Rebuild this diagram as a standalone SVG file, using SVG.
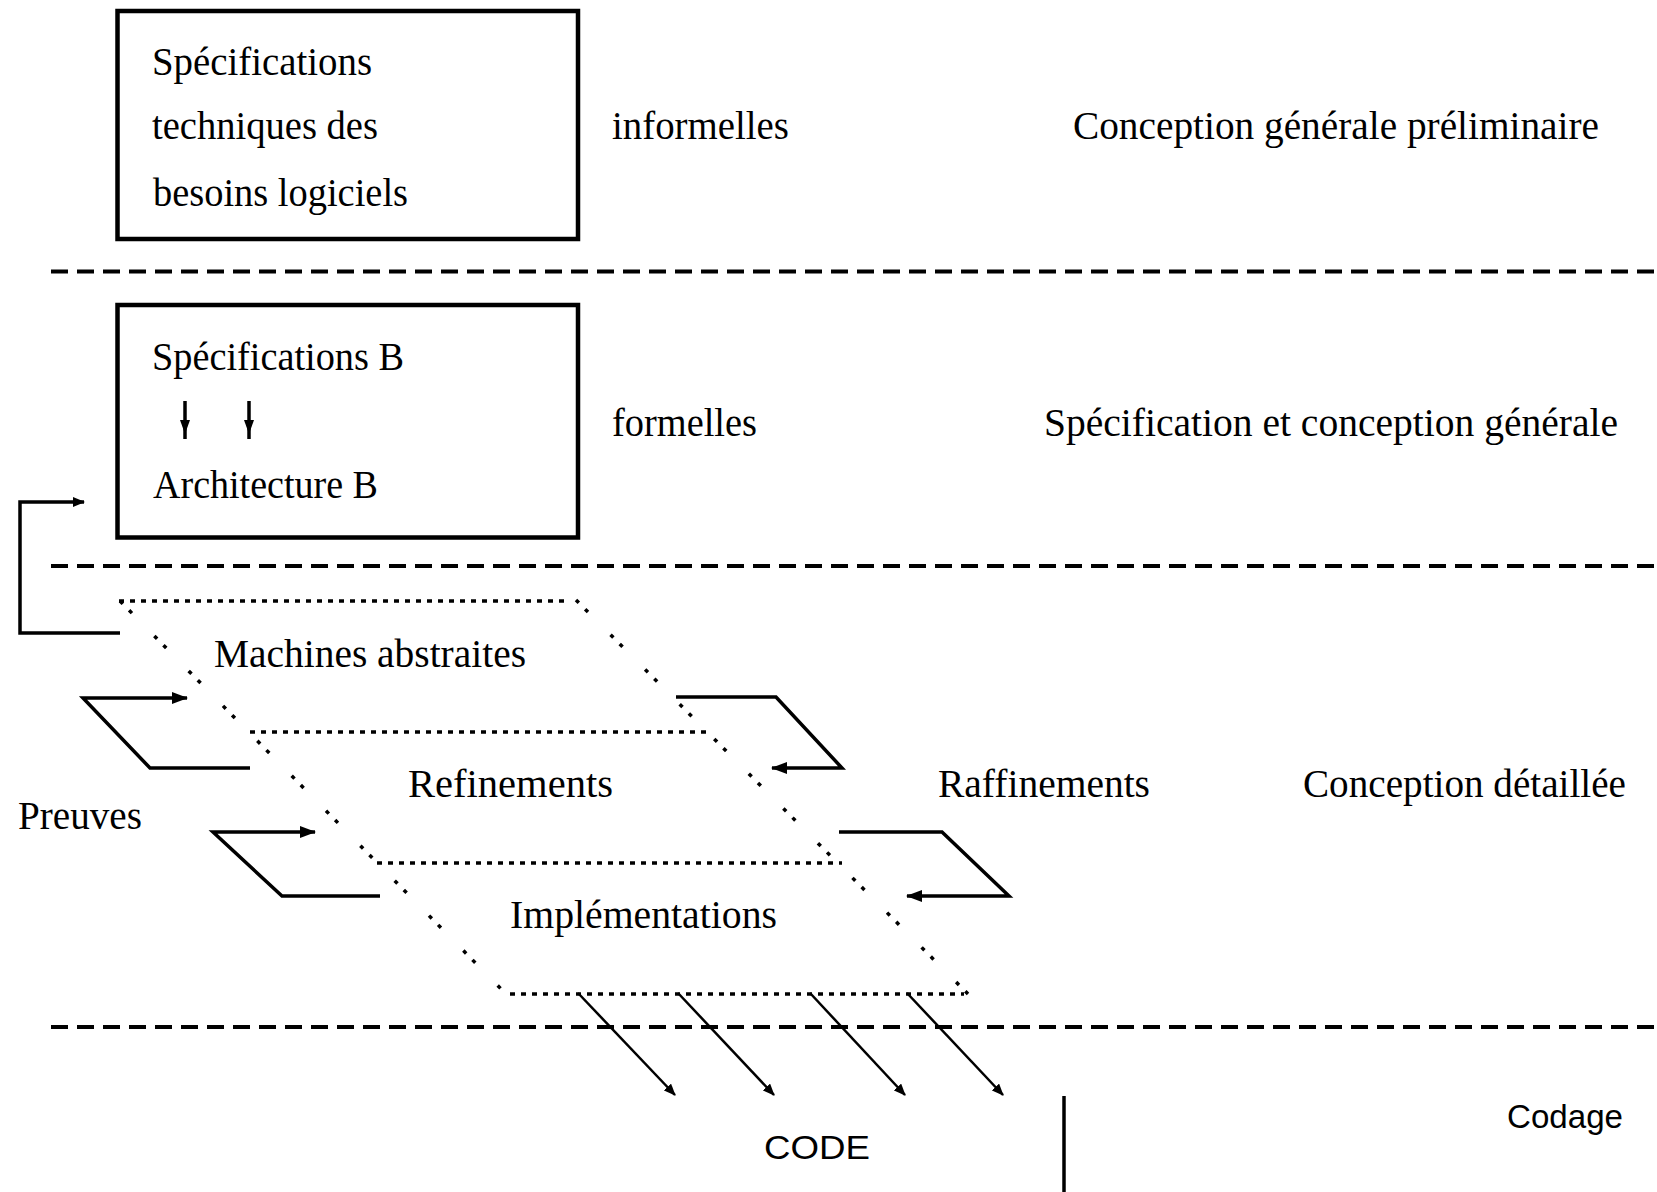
<svg xmlns="http://www.w3.org/2000/svg" width="1657" height="1192" viewBox="0 0 1657 1192">
<style>
  .bg { fill: #ffffff; }
  .box { fill: none; stroke: #000; stroke-width: 4.5; }
  .sep { fill: none; stroke: #000; stroke-width: 4; stroke-dasharray: 17 9; }
  .doth { fill: none; stroke: #000; stroke-width: 3.5; stroke-dasharray: 5 6; }
  .dots { fill: none; stroke: #000; stroke-width: 3.5; stroke-dasharray: 4 9 4 32; }
  .conn { fill: none; stroke: #000; stroke-width: 3.5; }
  .thin { fill: none; stroke: #000; stroke-width: 2.5; }
  .t { font-family: "Liberation Serif", "DejaVu Serif", serif; font-size: 39px; fill: #000; }
  .s { font-family: "Liberation Sans", Arial, sans-serif; font-size: 34px; fill: #000; }
</style>
<defs>
  <marker id="ah" markerUnits="userSpaceOnUse" markerWidth="16" markerHeight="12" refX="15" refY="6" orient="auto">
    <path d="M0,0 L16,6 L0,12 z" fill="#000"/>
  </marker>
  <marker id="ahs" markerUnits="userSpaceOnUse" markerWidth="12" markerHeight="10" refX="11" refY="5" orient="auto">
    <path d="M0,0 L12,5 L0,10 z" fill="#000"/>
  </marker>
</defs>
<rect class="bg" x="0" y="0" width="1657" height="1192"/>

<g id="separators">
  <line class="sep" x1="51" y1="271.5" x2="1657" y2="271.5"/>
  <line class="sep" x1="51" y1="566" x2="1657" y2="566"/>
  <line class="sep" x1="51" y1="1027" x2="1657" y2="1027"/>
</g>

<g id="node-spec-techniques">
  <rect class="box" x="117.5" y="11" width="460.5" height="228"/>
  <text class="t" x="152" y="75" textLength="220" lengthAdjust="spacingAndGlyphs">Spécifications</text>
  <text class="t" x="152" y="139" textLength="226" lengthAdjust="spacingAndGlyphs">techniques des</text>
  <text class="t" x="153" y="206" textLength="255" lengthAdjust="spacingAndGlyphs">besoins logiciels</text>
</g>

<g id="node-spec-b">
  <rect class="box" x="117.5" y="305" width="460.5" height="232.5"/>
  <text class="t" x="152" y="370" textLength="252" lengthAdjust="spacingAndGlyphs">Spécifications B</text>
  <line class="conn" x1="185" y1="401" x2="185" y2="439"/>
  <path d="M180,420 L190,420 L185,434 z" fill="#000"/>
  <line class="conn" x1="249" y1="401" x2="249" y2="439"/>
  <path d="M244,420 L254,420 L249,434 z" fill="#000"/>
  <text class="t" x="153" y="498" textLength="225" lengthAdjust="spacingAndGlyphs">Architecture B</text>
</g>

<g id="labels-phases">
  <text class="t" x="612" y="139" textLength="177" lengthAdjust="spacingAndGlyphs">informelles</text>
  <text class="t" x="1073" y="139" textLength="526" lengthAdjust="spacingAndGlyphs">Conception générale préliminaire</text>
  <text class="t" x="612" y="436" textLength="145" lengthAdjust="spacingAndGlyphs">formelles</text>
  <text class="t" x="1044" y="436" textLength="574" lengthAdjust="spacingAndGlyphs">Spécification et conception générale</text>
  <text class="t" x="938" y="797" textLength="212" lengthAdjust="spacingAndGlyphs">Raffinements</text>
  <text class="t" x="1303" y="797" textLength="323" lengthAdjust="spacingAndGlyphs">Conception détaillée</text>
  <text class="t" x="18" y="829" textLength="124" lengthAdjust="spacingAndGlyphs">Preuves</text>
  <text class="s" x="1507" y="1128" textLength="116" lengthAdjust="spacingAndGlyphs">Codage</text>
</g>

<g id="node-layers">
  <line class="doth" x1="119" y1="601" x2="570" y2="601"/>
  <line class="doth" x1="250" y1="732" x2="711" y2="732"/>
  <line class="doth" x1="377" y1="863" x2="842" y2="863"/>
  <line class="doth" x1="510" y1="994" x2="964" y2="994"/>
  <line class="dots" x1="120" y1="601" x2="506" y2="994"/>
  <line class="dots" x1="576" y1="600" x2="968" y2="994"/>
</g>
<g id="node-machines">
  <text class="t" x="214" y="667" textLength="312" lengthAdjust="spacingAndGlyphs">Machines abstraites</text>
</g>
<g id="node-refinements">
  <text class="t" x="408" y="797" textLength="205" lengthAdjust="spacingAndGlyphs">Refinements</text>
</g>
<g id="node-implementations">
  <text class="t" x="510" y="928" textLength="267" lengthAdjust="spacingAndGlyphs">Implémentations</text>
</g>

<g id="node-code">
  <text class="s" x="764" y="1159" textLength="106" lengthAdjust="spacingAndGlyphs">CODE</text>
  <line class="conn" x1="1064" y1="1096" x2="1064" y2="1192"/>
</g>

<g id="connectors">
  <polyline class="conn" points="120,633 20,633 20,502 84,502" marker-end="url(#ahs)"/>
  <polyline class="conn" points="250,768 150,768 83,698 187,698" marker-end="url(#ah)"/>
  <polyline class="conn" points="380,896 282,896 213,832 315,832" marker-end="url(#ah)"/>
  <polyline class="conn" points="676,697 776,697 842,768 772,768" marker-end="url(#ah)"/>
  <polyline class="conn" points="839,832 942,832 1009,896 907,896" marker-end="url(#ah)"/>
  <line class="thin" x1="578" y1="993" x2="675" y2="1095" marker-end="url(#ahs)"/>
  <line class="thin" x1="678" y1="993" x2="774" y2="1095" marker-end="url(#ahs)"/>
  <line class="thin" x1="810" y1="993" x2="905" y2="1095" marker-end="url(#ahs)"/>
  <line class="thin" x1="907" y1="993" x2="1003" y2="1095" marker-end="url(#ahs)"/>
</g>
</svg>
